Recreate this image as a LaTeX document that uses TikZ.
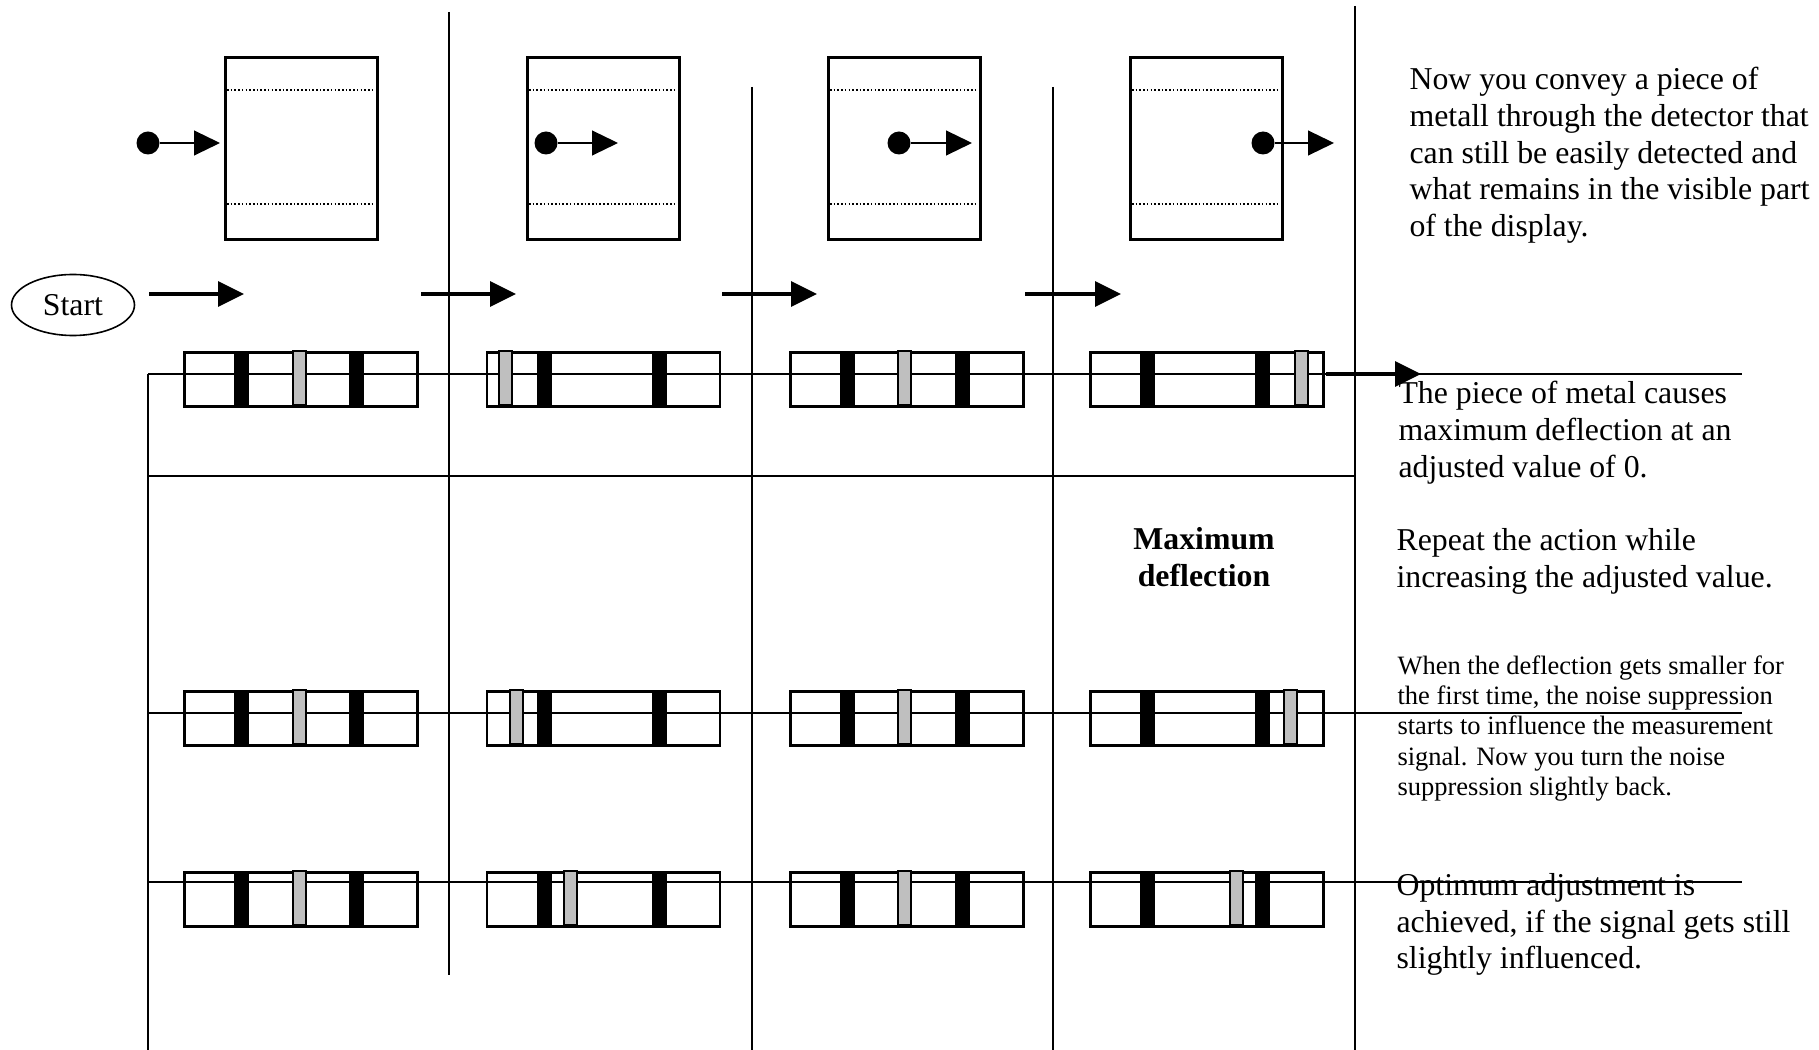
\documentclass[tikz,border=0pt]{standalone}
\usepackage{fontspec}
\setmainfont{Liberation Serif}
\usetikzlibrary{arrows.meta,shapes.geometric}
\newcommand{\dpx}{0.37736pt}
\tikzset{
    thin line/.style={line width=0.7pt},
    detector/.style={draw,line width=1.1pt,anchor=north west,inner sep=0pt,minimum width=152*\dpx,minimum height=182*\dpx},
    dotline/.style={line width=0.6pt,dash pattern=on 0.6pt off 0.8pt},
    readout/.style={draw,line width=1.1pt,anchor=north west,inner sep=0pt,minimum width=233*\dpx,minimum height=54*\dpx},
    greymark/.style={fill=black!25,draw,line width=0.5pt},
    metal/.style={circle,fill,inner sep=0pt,minimum size=23*\dpx},
    push/.style={-{Triangle[length=9.8pt,width=9.4pt]},line width=0.5pt},
    feed/.style={-{Triangle[length=9.8pt,width=9.4pt]},line width=1.25pt},
    note/.style={anchor=north west,inner sep=0pt,align=left,font=\fontsize{12}{13.8}\selectfont},
    smallnote/.style={note,font=\fontsize{10}{11.45}\selectfont},
    startnode/.style={ellipse,draw,line width=0.6pt,inner sep=0pt,minimum width=123*\dpx,minimum height=61*\dpx,font=\fontsize{12}{13.8}\selectfont},
}
% detector window: name, left edge
\newcommand{\detector}[2]{%
    \node[detector] (#1) at (#2,56) {};
    \draw[dotline] (#2+3,90) -- (#2+149,90);
    \draw[dotline] (#2+3,204) -- (#2+149,204);
}
% display bar: name, left edge, top edge, grey mark
\newcommand{\readout}[4]{%
    \node[readout] (#1) at (#2,#3) {};
    \fill (#2+51,#3) rectangle ++(15,54);
    \fill (#2+166,#3) rectangle ++(15,54);
    \filldraw[greymark] (#4,#3) rectangle ++(13,54);
}

\begin{document}
\begin{tikzpicture}[x=\dpx,y=-\dpx]
    \useasboundingbox (0,0) rectangle (1819,1050);

    % grid
    \draw[thin line] (449,12) -- (449,975);
    \draw[thin line] (752,87) -- (752,1050);
    \draw[thin line] (1053,87) -- (1053,1050);
    \draw[thin line] (1355,6) -- (1355,1050);
    \draw[thin line] (148,374) -- (148,1050);
    \draw[thin line] (148,476) -- (1355,476);
    \draw[thin line] (148,374) -- (1742,374);
    \draw[thin line] (148,713) -- (1742,713);
    \draw[thin line] (148,882) -- (1742,882);

    % detector with the piece of metal
    \detector{d1}{224}
    \detector{d2}{526}
    \detector{d3}{827}
    \detector{d4}{1129}
    \node[metal] (m1) at (148,143) {};
    \node[metal] (m2) at (546,143) {};
    \node[metal] (m3) at (899,143) {};
    \node[metal] (m4) at (1263,143) {};
    \draw[push] (m1) -- ++(72,0);
    \draw[push] (m2) -- ++(72,0);
    \draw[push] (m3) -- ++(73,0);
    \draw[push] (m4) -- ++(71,0);

    \node[startnode] (start) at (73,305) {Start};
    \draw[feed] (149,294) -- (244,294);
    \draw[feed] (421,294) -- (516,294);
    \draw[feed] (722,294) -- (817,294);
    \draw[feed] (1025,294) -- (1121,294);

    % displays
    \readout{r11}{183}{351}{293}
    \readout{r12}{485.5}{351}{499}
    \readout{r13}{789}{351}{898}
    \readout{r14}{1089}{351}{1295}
    \readout{r21}{183}{690}{293}
    \readout{r22}{485.5}{690}{510}
    \readout{r23}{789}{690}{898}
    \readout{r24}{1089}{690}{1284}
    \readout{r31}{183}{871}{293}
    \readout{r32}{485.5}{871}{564}
    \readout{r33}{789}{871}{898}
    \readout{r34}{1089}{871}{1230}
    \draw[feed] (1326,374) -- (1421,374);

    \node[note,anchor=north,align=center,font=\fontsize{12}{13.8}\selectfont\bfseries] (maxdefl) at (1204,527) {Maximum\\deflection};

    % explanations
    \node[note] (convey) at (1409,67) {Now you convey a piece of\\metall through the detector that\\can still be easily detected and\\what remains in the visible part\\of the display.};
    \node[note] (cause) at (1398,381) {The piece of metal causes\\maximum deflection at an\\adjusted value of 0.};
    \node[note] (repeat) at (1396,528) {Repeat the action while\\increasing the adjusted value.};
    \node[smallnote] (smaller) at (1397,655) {When the deflection gets smaller for\\the first time, the noise suppression\\starts to influence the measurement\\signal. Now you turn the noise\\suppression slightly back.};
    \node[note] (optimum) at (1396,873) {Optimum adjustment is\\achieved, if the signal gets still\\slightly influenced.};
\end{tikzpicture}
\end{document}
